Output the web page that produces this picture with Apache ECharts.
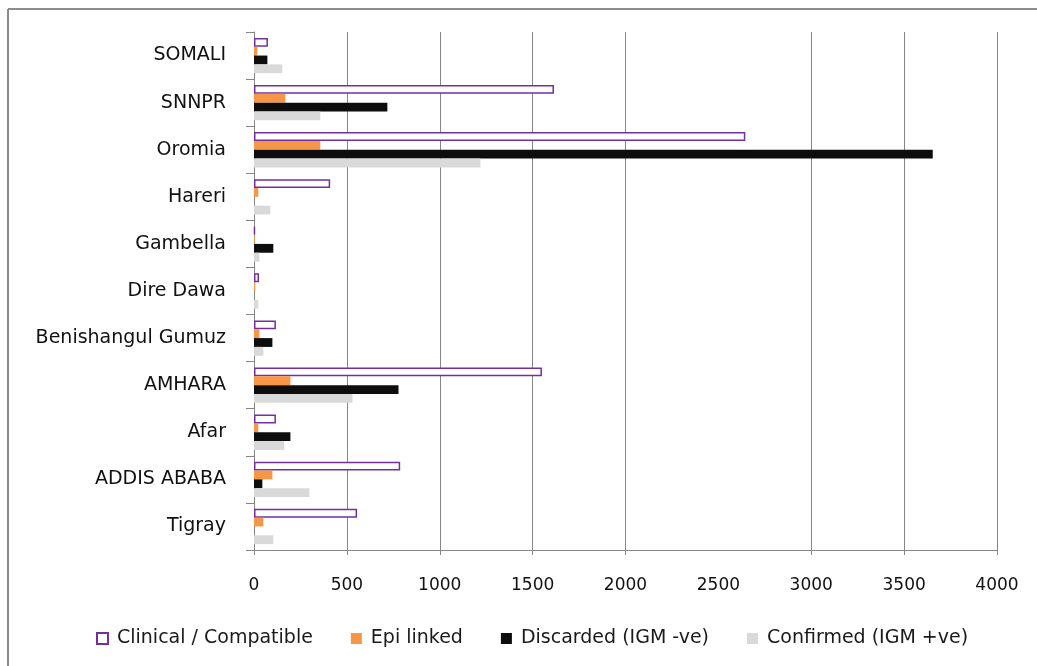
<!DOCTYPE html>
<html>
<head>
<meta charset="utf-8">
<script src="https://cdn.jsdelivr.net/npm/echarts@6/dist/echarts.min.js"></script>
<style>
  html, body { margin: 0; padding: 0; background: #ffffff; }
  #chart { width: 1037px; height: 666px; }
</style>
</head>
<body>
<div id="chart"></div>
<script>
// Regions, listed bottom to top as they appear on the category axis
const regions = ['Tigray', 'ADDIS ABABA', 'Afar', 'AMHARA', 'Benishangul Gumuz',
  'Dire Dawa', 'Gambella', 'Hareri', 'Oromia', 'SNNPR', 'SOMALI'];

// Case counts per region, same order as above
const clinicalCompatible = [555, 787, 118, 1550, 118, 27, 5, 410, 2645, 1615, 75];
const epiLinked          = [50, 99, 23, 196, 29, 7, 5, 23, 357, 169, 18];
const discardedIgmNeg    = [0, 45, 196, 778, 99, 0, 104, 0, 3654, 718, 72];
const confirmedIgmPos    = [104, 298, 163, 530, 50, 23, 29, 88, 1219, 357, 152];

// Value-axis tick labels, and the positions that get a tick mark and gridline
const xLabelValues = [0, 500, 1000, 1500, 2000, 2500, 3000, 3500, 4000];
const xGridValues  = [500, 1000, 1500, 2000, 3000, 3500, 4000];
const xTickValues  = [0, 500, 1000, 1500, 2000, 3000, 3500, 4000];

const seriesNames = ['Clinical / Compatible', 'Epi linked', 'Discarded (IGM -ve)', 'Confirmed (IGM +ve)'];

const FONT = 'DejaVu Sans';
const GRAY = '#868686';

const chart = echarts.init(document.getElementById('chart'), null, { renderer: 'canvas' });

const barBase = {
  type: 'bar',
  barGap: '0%',
  barCategoryGap: '25%',
  animation: false
};

chart.setOption({
  backgroundColor: '#ffffff',
  graphic: [
    { type: 'line', shape: { x1: 8, y1: 9, x2: 1037, y2: 9 },
      style: { stroke: '#8c8c8c', lineWidth: 2 }, silent: true },
    { type: 'line', shape: { x1: 8, y1: 9, x2: 8, y2: 666 },
      style: { stroke: '#8c8c8c', lineWidth: 2 }, silent: true }
  ],
  grid: { left: 254, right: 40, top: 32, bottom: 116, containLabel: false },
  legend: {
    data: seriesNames,
    left: 91,
    top: 624,
    icon: 'rect',
    itemWidth: 11,
    itemHeight: 11,
    itemGap: 38,
    textStyle: { fontFamily: FONT, fontSize: 19, color: '#1a1a1a', padding: [0, 0, 0, 4] }
  },
  xAxis: {
    type: 'value',
    min: 0,
    max: 4000,
    interval: 500,
    axisLine: { show: true, lineStyle: { color: GRAY, width: 1 } },
    axisTick: { show: true, length: 5, lineStyle: { color: GRAY }, customValues: xTickValues },
    axisLabel: {
      customValues: xLabelValues, margin: 27,
      fontFamily: FONT, fontSize: 17, color: '#111',
      formatter: v => String(v)
    },
    splitLine: { show: false }
  },
  yAxis: {
    type: 'category',
    data: regions,
    axisLine: { show: true, lineStyle: { color: GRAY, width: 1 } },
    axisTick: { show: true, length: 8, lineStyle: { color: GRAY } },
    axisLabel: { margin: 28, fontFamily: FONT, fontSize: 19, color: '#111' }
  },
  series: [
    Object.assign({}, barBase, {
      name: seriesNames[0], data: clinicalCompatible,
      itemStyle: { color: '#ffffff', borderColor: '#7030A0', borderWidth: 1.5 },
      // vertical gridlines, drawn beneath the bars
      markLine: {
        silent: true,
        symbol: 'none',
        label: { show: false },
        z: 0,
        lineStyle: { color: GRAY, width: 1, type: 'solid' },
        data: xGridValues.map(v => ({ xAxis: v }))
      }
    }),
    Object.assign({}, barBase, {
      name: seriesNames[1], data: epiLinked,
      itemStyle: { color: '#F79646' }
    }),
    Object.assign({}, barBase, {
      name: seriesNames[2], data: discardedIgmNeg,
      itemStyle: { color: '#0D0D0D' }
    }),
    Object.assign({}, barBase, {
      name: seriesNames[3], data: confirmedIgmPos,
      itemStyle: { color: '#D9D9D9' }
    })
  ]
});
</script>
</body>
</html>
